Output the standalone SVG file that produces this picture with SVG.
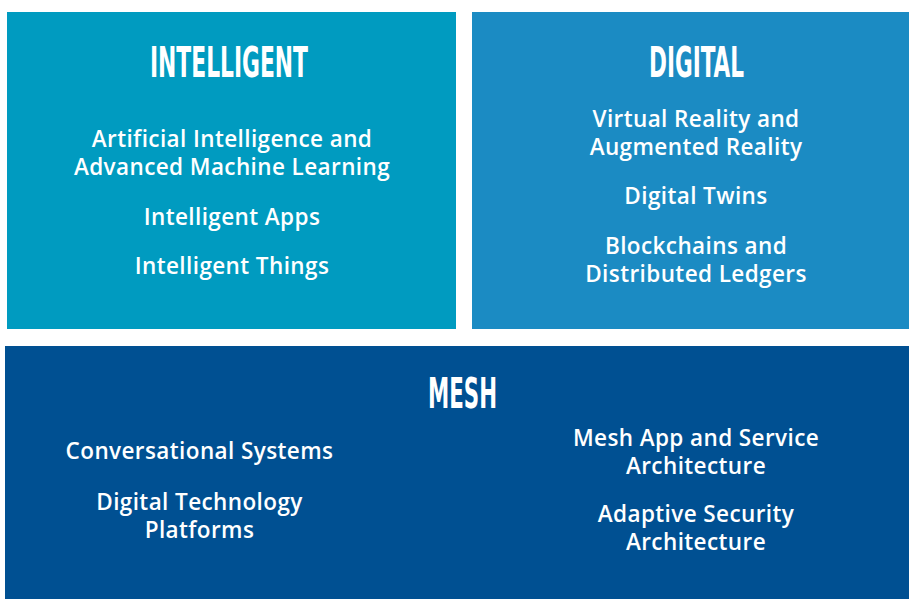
<svg xmlns="http://www.w3.org/2000/svg" width="909" height="599" viewBox="0 0 909 599">
<style>
.title{font-family:"Liberation Sans Narrow","DejaVu Sans Condensed","Liberation Sans",sans-serif;font-weight:700;font-size:42px;fill:#fff;text-anchor:middle}
.item{font-family:"Open Sans","Noto Sans","Liberation Sans",sans-serif;font-weight:600;font-size:22.5px;letter-spacing:0.4px;fill:#fff;text-anchor:middle}
</style>
<rect width="909" height="599" fill="#fff"/>
<g id="intelligent">
<rect x="7" y="12" width="449" height="317" fill="#009BC0"/>
<text class="title" x="229" y="77" textLength="158" lengthAdjust="spacingAndGlyphs">INTELLIGENT</text>
<text class="item" x="232" y="147">Artificial Intelligence and<tspan x="232" dy="28">Advanced Machine Learning</tspan></text>
<text class="item" x="232" y="225">Intelligent Apps</text>
<text class="item" x="232" y="274">Intelligent Things</text>
</g>
<g id="digital">
<rect x="472" y="12" width="437" height="317" fill="#1B8BC3"/>
<text class="title" x="696.5" y="77" textLength="95" lengthAdjust="spacingAndGlyphs">DIGITAL</text>
<text class="item" x="696" y="126.5">Virtual Reality and<tspan x="696" dy="28">Augmented Reality</tspan></text>
<text class="item" x="696" y="204">Digital Twins</text>
<text class="item" x="696" y="253.5">Blockchains and<tspan x="696" dy="28">Distributed Ledgers</tspan></text>
</g>
<g id="mesh">
<rect x="5" y="346" width="904" height="253" fill="#005092"/>
<text class="title" x="462.5" y="408" textLength="69" lengthAdjust="spacingAndGlyphs">MESH</text>
<text class="item" x="199.5" y="459">Conversational Systems</text>
<text class="item" x="199.5" y="509.5">Digital Technology<tspan x="199.5" dy="28">Platforms</tspan></text>
<text class="item" x="696" y="445.5">Mesh App and Service<tspan x="696" dy="28">Architecture</tspan></text>
<text class="item" x="696" y="522">Adaptive Security<tspan x="696" dy="28">Architecture</tspan></text>
</g>
<g id="connectors"/>
</svg>
